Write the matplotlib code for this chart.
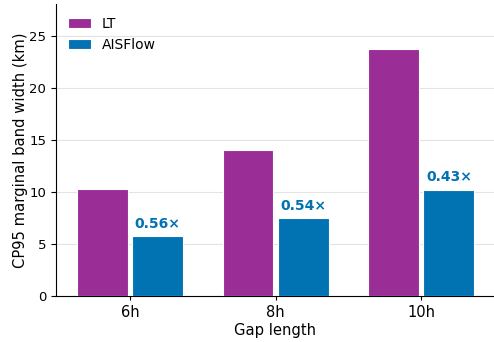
import numpy as np
import matplotlib.pyplot as plt

gaps = ["6h", "8h", "10h"]
lt_width = [10.3, 14.0, 23.75]
aisflow_width = [5.74, 7.47, 10.19]
ratio_labels = ["0.56×", "0.54×", "0.43×"]

lt_color = "#9b2d97"
ais_color = "#0173b2"

fig = plt.figure(figsize=(4.94, 3.42), dpi=100)
ax = fig.add_axes([0.113, 0.135, 0.887, 0.853])

x = np.arange(len(gaps))
w = 0.35
ax.bar(x - 0.19, lt_width, w, color=lt_color, edgecolor="white", linewidth=0.8,
       label="LT", zorder=3)
bars = ax.bar(x + 0.19, aisflow_width, w, color=ais_color, edgecolor="white",
              linewidth=0.8, label="AISFlow", zorder=3)

for rect, lab in zip(bars, ratio_labels):
    ax.annotate(lab, (rect.get_x() + rect.get_width() / 2, rect.get_height()),
                xytext=(0, 4), textcoords="offset points", ha="center",
                va="bottom", color=ais_color, fontsize=10, fontweight="bold")

ax.set_xticks(x)
ax.set_xticklabels(gaps, fontsize=10.5)
ax.set_xlim(-0.51, 2.5)
ax.set_ylim(0, 28.1)
ax.set_yticks([0, 5, 10, 15, 20, 25])
ax.tick_params(axis="y", labelsize=9.5)
ax.tick_params(axis="x", length=3)
ax.set_xlabel("Gap length", fontsize=10.6, labelpad=2.5)
ax.set_ylabel("CP95 marginal band width (km)", fontsize=10.6, labelpad=1)

ax.grid(axis="y", color="#e3e3e3", linewidth=0.8, zorder=0)
ax.set_axisbelow(True)
for s in ["top", "right"]:
    ax.spines[s].set_visible(False)

ax.legend(loc="upper left", frameon=False, fontsize=10, handlelength=1.6)

fig.savefig("out.png", dpi=100)
